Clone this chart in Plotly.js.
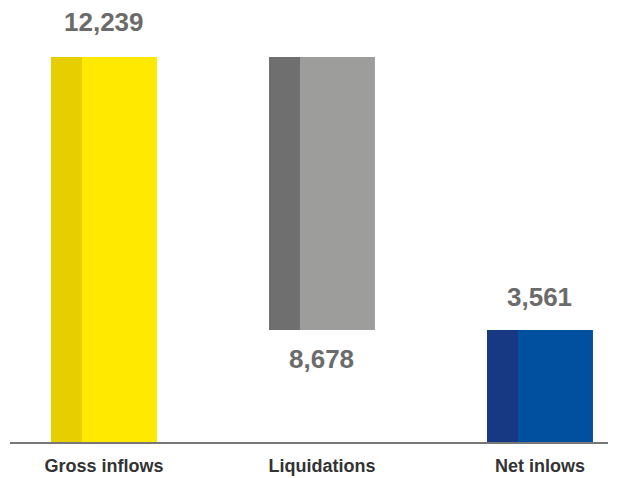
<!DOCTYPE html>
<html><head><meta charset="utf-8">
<script src="https://cdn.plot.ly/plotly-3.0.1.min.js"></script>
<style>html,body{margin:0;padding:0;background:#fff;}#chart{width:622px;height:478px;}</style>
</head><body><div id="chart"></div>
<script>
const categories = ["Gross inflows", "Liquidations", "Net inlows"];
const values = [12239, 8678, 3561];
const labels = ["12,239", "8,678", "3,561"];
const lightColors = ["#FFE900", "#9D9D9C", "#0050A0"];
const darkColors = ["#E6CF00", "#706F6F", "#173882"];

const bases = [0, values[0] - values[1], 0];

const light = {
  type: "bar", x: categories, y: values, base: bases,
  width: 0.486, marker: {color: lightColors, line: {width: 0}},
  hoverinfo: "skip", showlegend: false
};
const dark = {
  type: "bar", x: categories, y: values, base: bases,
  width: 0.142, offset: -0.243, marker: {color: darkColors, line: {width: 0}},
  hoverinfo: "skip", showlegend: false
};

const numFont = {family: "Liberation Sans, Arial, sans-serif", size: 26, color: "#6b6b6b", weight: 700};
const annotations = [
  {x: categories[0], y: values[0], yanchor: "bottom", yshift: 18, text: "<b>" + labels[0] + "</b>"},
  {x: categories[1], y: bases[1], yanchor: "top", yshift: -12, text: "<b>" + labels[1] + "</b>"},
  {x: categories[2], y: values[2], yanchor: "bottom", yshift: 16, text: "<b>" + labels[2] + "</b>"}
].map(a => Object.assign({xref: "x", yref: "y", showarrow: false, xanchor: "center", font: numFont}, a));

const layout = {
  width: 622, height: 478,
  margin: {l: 10, r: 14, t: 0, b: 36},
  paper_bgcolor: "#fff", plot_bgcolor: "#fff",
  barmode: "overlay",
  xaxis: {
    type: "category", range: [-0.431, 2.312],
    showline: true, linecolor: "#777", linewidth: 2,
    showgrid: false, zeroline: false, ticks: "", ticklabelstandoff: 6,
    tickfont: {family: "Liberation Sans, Arial, sans-serif", size: 18, color: "#333", weight: 700},
    fixedrange: true
  },
  yaxis: {range: [0, 14051], visible: false, showgrid: false, zeroline: false, fixedrange: true},
  annotations: annotations
};
Plotly.newPlot("chart", [light, dark], layout, {displayModeBar: false, staticPlot: true});
</script></body></html>
